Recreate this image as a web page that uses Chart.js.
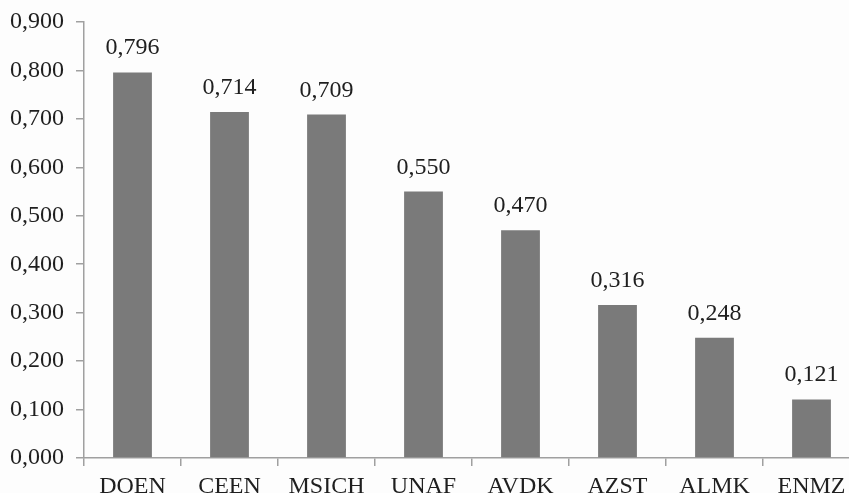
<!DOCTYPE html>
<html>
<head>
<meta charset="utf-8">
<script src="https://cdn.jsdelivr.net/npm/chart.js@4/dist/chart.umd.min.js"></script>
<style>
html,body{margin:0;padding:0;background:#fdfdfd;overflow:hidden;}
#wrap{width:862px;height:493px;}
</style>
</head>
<body>
<div id="wrap"><canvas id="c" width="862" height="493"></canvas></div>
<script>
const categories = ["DOEN","CEEN","MSICH","UNAF","AVDK","AZST","ALMK","ENMZ"];
const values = [0.796,0.714,0.709,0.550,0.470,0.316,0.248,0.121];
const yMin = 0, yMax = 0.9, yStep = 0.1;

const fmt = v => v.toFixed(3).replace('.', ',');
const FONT = '"Liberation Serif","Times New Roman",serif';
const TEXT = '#1f1f1f';

const labelPlugin = {
  id: 'valueLabels',
  afterDatasetsDraw(chart) {
    const ctx = chart.ctx;
    const meta = chart.getDatasetMeta(0);
    ctx.save();
    ctx.font = '24px ' + FONT;
    ctx.fillStyle = TEXT;
    ctx.textAlign = 'center';
    ctx.textBaseline = 'alphabetic';
    meta.data.forEach((bar, i) => {
      ctx.fillText(fmt(values[i]), bar.x, bar.y - 18);
    });
    ctx.restore();
  }
};

new Chart(document.getElementById('c'), {
  type: 'bar',
  data: {
    labels: categories,
    datasets: [{
      data: values,
      backgroundColor: '#7a7a7a',
      borderWidth: 0,
      barPercentage: 0.4,
      categoryPercentage: 1.0
    }]
  },
  options: {
    responsive: false,
    animation: false,
    devicePixelRatio: 1,
    layout: { padding: { top: 22, right: 2, left: 0, bottom: 0 } },
    plugins: { legend: { display: false }, tooltip: { enabled: false } },
    scales: {
      x: {
        offset: true,
        grid: { display: true, offset: true, drawOnChartArea: false, drawTicks: true, tickLength: 8, color: '#a0a0a0', lineWidth: 1.5 },
        border: { display: true, color: '#a0a0a0', width: 1.5 },
        ticks: { color: TEXT, font: { family: FONT, size: 24 }, padding: 6, maxRotation: 0 },
        afterFit(axis) { axis.height = 35; axis.paddingLeft = 0; axis.paddingRight = 0; }
      },
      y: {
        min: yMin, max: yMax,
        grid: { display: true, drawOnChartArea: false, drawTicks: true, tickLength: 8, color: '#a0a0a0', lineWidth: 1.5 },
        border: { display: true, color: '#a0a0a0', width: 1.5 },
        ticks: { stepSize: yStep, color: TEXT, font: { family: FONT, size: 24 }, padding: 12, callback: v => fmt(v) },
        afterFit(axis) { axis.width = 84; axis.paddingTop = 0; axis.paddingBottom = 0; }
      }
    }
  },
  plugins: [labelPlugin]
});
</script>
</body>
</html>
